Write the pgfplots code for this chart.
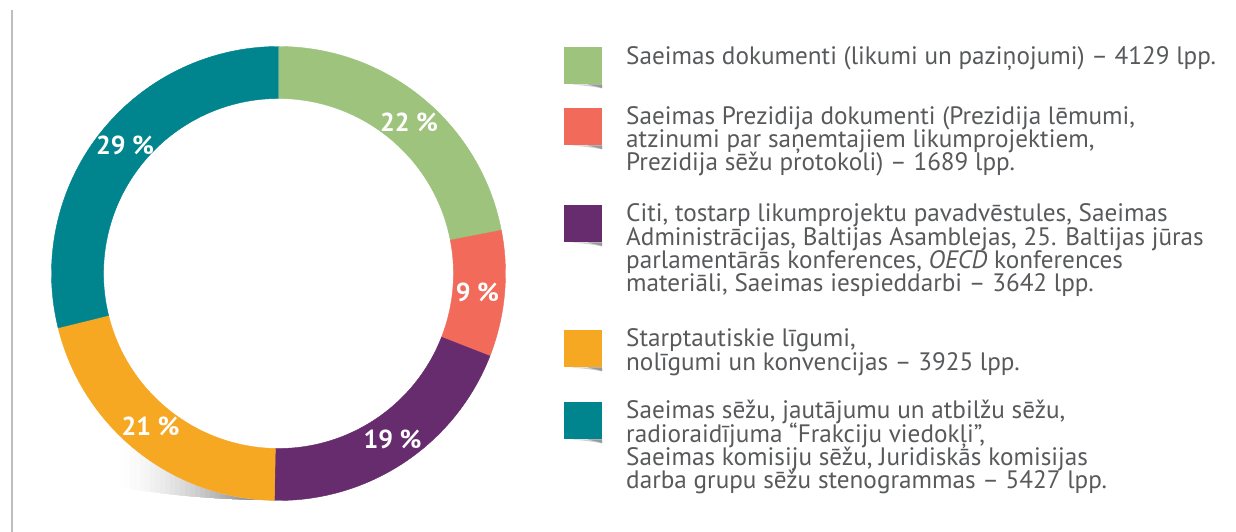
\documentclass[border=0pt]{standalone}
\usepackage{fontspec}
\setmainfont{PT Sans}
\usepackage{pgfplots}
\pgfplotsset{compat=1.18}
\usepackage{pgfplotstable}

\definecolor{cgreen}{RGB}{157,195,125}
\definecolor{cred}{RGB}{241,106,90}
\definecolor{cpurple}{RGB}{102,44,110}
\definecolor{corange}{RGB}{247,168,35}
\definecolor{cteal}{RGB}{0,132,141}
\definecolor{ctext}{RGB}{88,89,91}
\definecolor{cline}{RGB}{190,190,190}

\pgfplotstableread{
share value
dokumenti 4129
prezidijs 1689
citi 3642
ligumi 3925
stenogrammas 5427
}\donutdata

\pgfplotstablegetelem{0}{value}\of\donutdata \edef\vA{\pgfplotsretval}
\pgfplotstablegetelem{1}{value}\of\donutdata \edef\vB{\pgfplotsretval}
\pgfplotstablegetelem{2}{value}\of\donutdata \edef\vC{\pgfplotsretval}
\pgfplotstablegetelem{3}{value}\of\donutdata \edef\vD{\pgfplotsretval}
\pgfplotstablegetelem{4}{value}\of\donutdata \edef\vE{\pgfplotsretval}
\pgfmathsetmacro\tot{\vA/1000+\vB/1000+\vC/1000+\vD/1000+\vE/1000}
\pgfmathsetmacro\aA{90}
\pgfmathsetmacro\aB{\aA-360*(\vA/1000/\tot)}
\pgfmathsetmacro\aC{\aB-360*(\vB/1000/\tot)}
\pgfmathsetmacro\aD{\aC-360*(\vC/1000/\tot)}
\pgfmathsetmacro\aE{\aD-360*(\vD/1000/\tot)}
\pgfmathsetmacro\aF{\aE-360*(\vE/1000/\tot)}

\newcommand\legfont{\fontsize{25.2}{23}\selectfont}
\newcommand\pctfont{\fontsize{26}{26}\selectfont\bfseries}

\newcommand{\sector}[3]{%
  \fill[#1, draw=#1, line width=0.4pt] ([shift={(#2:227pt)}]C) arc[start angle=#2, end angle=#3, radius=227pt]
    -- ([shift={(#3:175pt)}]C) arc[start angle=#3, end angle=#2, radius=175pt] -- cycle;}
% one step of the grey shadow below the ring
\newcommand{\shslice}[1]{%
  \pgfmathsetmacro\shx{120+5*#1}%
  \pgfmathsetmacro\shl{60*((#1+1)/32)^1.6}%
  \edef\shcmd{\noexpand\fill[black!\shl] (axis cs:\shx,20) rectangle (axis cs:290,270);}%
  \shcmd}
\newcommand{\legsq}[3]{% color, top, bottom (axis y)
  \fill[black!18] (axis cs:572,#3) -- (axis cs:602,#3) -- ([yshift=-4pt]axis cs:602,#3) .. controls ([yshift=-2pt]axis cs:594,#3) and ([yshift=-1pt]axis cs:582,#3) .. (axis cs:572,#3) -- cycle;
  \fill[black!40] (axis cs:588,#3) -- (axis cs:602,#3) -- ([yshift=-3.5pt]axis cs:602,#3) .. controls ([yshift=-2pt]axis cs:597,#3) and ([yshift=-1pt]axis cs:592,#3) .. (axis cs:588,#3) -- cycle;
  \fill[#1] (axis cs:564,#2) rectangle (axis cs:602,#3);}
\newcommand{\legline}[2]{\node[anchor=base west, inner sep=0, text=ctext, font=\legfont] at (axis cs:626,#1) {#2};}

\begin{document}
\begin{tikzpicture}
\begin{axis}[
  at={(0,0)}, anchor=south west,
  x=1pt, y=1pt,
  xmin=0, xmax=1236, ymin=0, ymax=532,
  hide axis, clip=false,
]
\coordinate (C) at (axis cs:278.5,258.5);
\coordinate (E) at (axis cs:277.5,132);
% left rule
\draw[cline, line width=2pt] (axis cs:12,0) -- (axis cs:12,522);
% shadow under the ring
\begin{scope}
\clip ([shift={(215:320pt and 100pt)}]E) arc[start angle=215, end angle=270, x radius=320pt, y radius=100pt] -- (C) -- cycle;
\pgfplotsinvokeforeach{0,...,31}{\shslice{#1}}
\end{scope}
\fill[white] (C) circle[radius=227pt];
% ring
\sector{cgreen}{\aA}{\aB}
\sector{cred}{\aB}{\aC}
\sector{cpurple}{\aC}{\aD}
\sector{corange}{\aD}{\aE}
\sector{cteal}{\aE}{\aF}
% percentages
\node[font=\pctfont, text=white, inner sep=0] at (axis cs:409,410) {22 \%};
\node[font=\pctfont, text=white, inner sep=0] at (axis cs:477.5,240) {9 \%};
\node[font=\pctfont, text=white, inner sep=0] at (axis cs:392.5,93) {19 \%};
\node[font=\pctfont, text=white, inner sep=0] at (axis cs:150.5,106) {21 \%};
\node[font=\pctfont, text=white, inner sep=0] at (axis cs:125,387) {29 \%};
% legend
\legsq{cgreen}{485}{447.5}
\legsq{cred}{424}{386.5}
\legsq{cpurple}{327}{289.5}
\legsq{corange}{202}{164.5}
\legsq{cteal}{130}{92.5}
\legline{467.5}{Saeimas dokumenti (likumi un paziņojumi) – 4129 lpp.}
\legline{407.5}{Saeimas Prezidija dokumenti (Prezidija lēmumi,}
\legline{384.3}{atzinumi par saņemtajiem likumprojektiem,}
\legline{361.1}{Prezidija sēžu protokoli) – 1689 lpp.}
\legline{310}{Citi, tostarp likumprojektu pavadvēstules, Saeimas}
\legline{286.8}{Administrācijas, Baltijas Asamblejas, 25. Baltijas jūras}
\legline{263.6}{parlamentārās konferences, \textit{OECD} konferences}
\legline{240.4}{materiāli, Saeimas iespieddarbi – 3642 lpp.}
\legline{185}{Starptautiskie līgumi,}
\legline{161.8}{nolīgumi un konvencijas – 3925 lpp.}
\legline{113}{Saeimas sēžu, jautājumu un atbilžu sēžu,}
\legline{89.8}{radioraidījuma “Frakciju viedokļi”,}
\legline{66.6}{Saeimas komisiju sēžu, Juridiskās komisijas}
\legline{43.4}{darba grupu sēžu stenogrammas – 5427 lpp.}
\end{axis}
\pgfresetboundingbox
\path[use as bounding box] (0,0) rectangle (1236pt,532pt);
\end{tikzpicture}
\end{document}
